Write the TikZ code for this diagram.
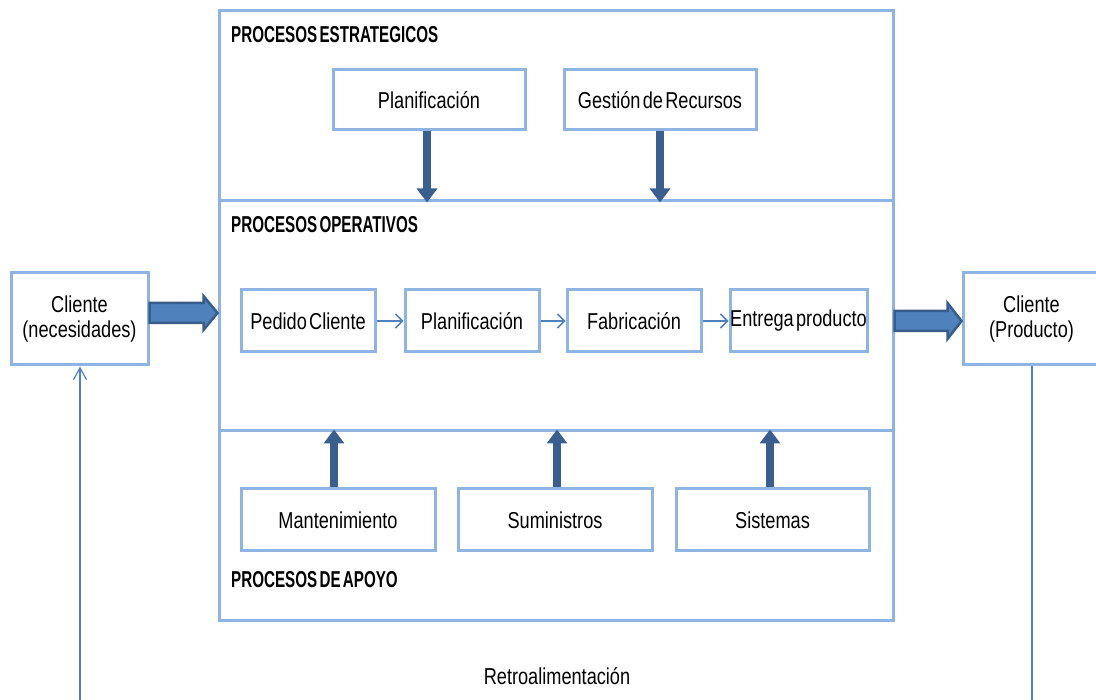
\documentclass[tikz,border=0pt]{standalone}
\usepackage{fontspec}
\setmainfont{Liberation Sans}[FakeStretch=0.79, WordSpace=0.45]
\newfontfamily\titlefont{Liberation Sans}[FakeStretch=0.66, WordSpace=0.55]
\usetikzlibrary{arrows.meta, calc}
\definecolor{frameblue}{HTML}{8DB4E2}
\definecolor{darkblue}{HTML}{3A5F8E}
\definecolor{midblue}{HTML}{4F81BD}
\definecolor{outlineblue}{HTML}{385D8A}
\begin{document}
\begin{tikzpicture}[x=1pt,y=-1pt,
  frame/.style n args={2}{draw=frameblue, line width=3pt, minimum width=#1, minimum height=#2, inner sep=0pt},
  box/.style n args={2}{draw=frameblue, line width=3pt, fill=white, minimum width=#1, minimum height=#2, inner sep=0pt, align=center, font=\fontsize{23}{25}\selectfont},
  title/.style={anchor=west, inner sep=0pt, font=\titlefont\bfseries\fontsize{23}{24}\selectfont},
  thickarrow/.style={draw=darkblue, line width=8pt, -{Triangle[width=20pt,length=14pt]}},
  thinarrow/.style={draw=midblue, line width=1.5pt, -{Straight Barb[length=7pt,width=14pt]}},
  blockarrow/.style={fill=midblue, draw=outlineblue, line width=2.5pt, line join=miter}
]
\useasboundingbox (0,0) rectangle (1096,700);

% frames
\node[frame={674}{190}] (top) at (556,106) {};
\node[frame={674}{230}] (mid) at (556,316) {};
\node[frame={674}{189}] (bot) at (556,525.5) {};

\node[title] (t1) at (231,35) {PROCESOS ESTRATEGICOS};
\node[title] (t2) at (231,225) {PROCESOS OPERATIVOS};
\node[title] (t3) at (231,580) {PROCESOS DE APOYO};

% strategic
\node[box={192}{60}] (plan1) at (429,100) {Planificación};
\node[box={192}{60}] (gest) at (660,100) {Gestión de Recursos};

% operative
\node[box={134}{62}] (pedido) at (308,321) {Pedido Cliente};
\node[box={134}{62}] (plan2) at (472,321) {Planificación};
\node[box={134}{62}] (fabr) at (634,321) {Fabricación};
\node[box={137}{62}] (entrega) at (798.5,321) {Entrega producto};

% support
\node[box={194}{62}] (mant) at (338,520) {Mantenimiento};
\node[box={194}{62}] (sumin) at (555,520) {Suministros};
\node[box={193}{62}] (sist) at (772.5,520) {Sistemas};

% clients
\node[box={137}{92}] (clientL) at (79.5,319) {Cliente\\(necesidades)};
\node[box={137}{92}] (clientR) at (1031.5,319) {Cliente\\(Producto)};

\node[inner sep=0pt, font=\fontsize{23}{25}\selectfont] (retro) at (557,676) {Retroalimentación};

% thick arrows
\draw[thickarrow] ($(plan1.south)+(-2,0)$) -- ($(plan1.south |- top.south)+(-2,0)$);
\draw[thickarrow] (gest.south) -- (gest.south |- top.south);
\draw[thickarrow] ($(mant.north)+(-4,0)$) -- ($(mant.north |- bot.north)+(-4,0)$);
\draw[thickarrow] ($(sumin.north)+(2,0)$) -- ($(sumin.north |- bot.north)+(2,0)$);
\draw[thickarrow] ($(sist.north)+(-2.5,0)$) -- ($(sist.north |- bot.north)+(-2.5,0)$);

% thin arrows
\draw[thinarrow] (pedido) -- (plan2);
\draw[thinarrow] (plan2) -- (fabr);
\draw[thinarrow] (fabr) -- (entrega);

% block arrows
\coordinate (la) at ($(clientL.east)+(0,-6)$);
\coordinate (lt) at (mid.west |- la);
\draw[blockarrow] ($(la)+(0,-10)$) -- ($(lt)+(-14,-10)$) -- ($(lt)+(-14,-17)$) -- (lt)
  -- ($(lt)+(-14,17)$) -- ($(lt)+(-14,10)$) -- ($(la)+(0,10)$) -- cycle;
\coordinate (rt) at ($(clientR.west)+(0,2)$);
\coordinate (ra) at (mid.east |- rt);
\draw[blockarrow] ($(ra)+(0,-10)$) -- ($(rt)+(-14,-10)$) -- ($(rt)+(-14,-18)$) -- (rt)
  -- ($(rt)+(-14,18)$) -- ($(rt)+(-14,10)$) -- ($(ra)+(0,10)$) -- cycle;

% feedback lines
\coordinate (fl) at (80,702);
\coordinate (fr) at (1032,702);
\draw[thinarrow, line width=1.2pt, -{Straight Barb[length=12pt,width=13pt]}] (fl) -- (fl |- clientL.south);
\draw[draw=midblue, line width=1.2pt] (clientR.south -| fr) -- (fr);
\end{tikzpicture}
\end{document}
